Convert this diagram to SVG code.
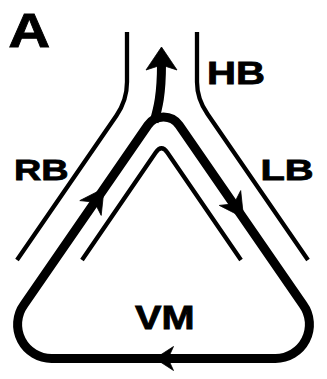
<svg xmlns="http://www.w3.org/2000/svg" width="327" height="379" viewBox="0 0 327 379">
<style>
.wall{fill:none;stroke:#000;stroke-width:4.3;stroke-linecap:butt;stroke-linejoin:round}
.flow{fill:none;stroke:#000;stroke-width:9;stroke-linejoin:round}
.head{fill:#000;stroke:#000;stroke-width:0.8;stroke-linejoin:miter}
.lbl{font-family:"Liberation Sans",Arial,sans-serif;font-weight:bold;fill:#000;stroke:#000;stroke-width:0.8}
</style>
<rect width="327" height="379" fill="#fff"/>
<g id="panel-label"><text class="lbl" x="8.3" y="46.7" font-size="49" textLength="42" lengthAdjust="spacingAndGlyphs">A</text></g>
<g id="walls">
<path class="wall" d="M127,32 L127,82 Q127,100 116.5,115.5 L17,260"/>
<path class="wall" d="M197,32 L197,82 Q197,99 207.5,114 L308,260"/>
<path class="wall" d="M82,260 L155.7,152.5 Q161.5,144 167.3,152.5 L241,260"/>
</g>
<g id="connectors">
<path class="flow" d="M147.9,125.1 A19,19 0 0 1 179.1,125.1 L303,304.6 A34,34 0 0 1 275,358.5 L52,358.5 A34,34 0 0 1 24,304.6 Z"/>
<path class="flow" d="M154,122 C158,108 161.5,95 161.5,64"/>
<polygon class="head" points="161.5,47 177,70 161.5,65 146,70"/>
<polygon class="head" points="104.1,188.2 101.2,215.4 94.5,202.2 79.8,200.6"/>
<polygon class="head" points="243.6,217.8 219.3,205.4 234,203.8 240.7,190.6"/>
<polygon class="head" points="155,358.5 173.5,346.5 168,358.5 173.5,370.5"/>
</g>
<g id="HB"><text class="lbl" x="207" y="84.3" font-size="31.5" textLength="58" lengthAdjust="spacingAndGlyphs">HB</text></g>
<g id="RB"><text class="lbl" x="14" y="180" font-size="30" textLength="54.6" lengthAdjust="spacingAndGlyphs">RB</text></g>
<g id="LB"><text class="lbl" x="260.4" y="180" font-size="30" textLength="53.2" lengthAdjust="spacingAndGlyphs">LB</text></g>
<g id="VM"><text class="lbl" x="135" y="329.3" font-size="32.6" textLength="59.6" lengthAdjust="spacingAndGlyphs">VM</text></g>
</svg>
